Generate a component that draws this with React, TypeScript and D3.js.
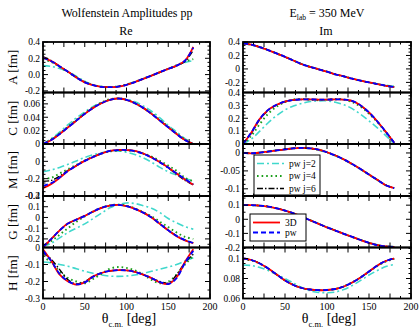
import React from "react";
import * as d3 from "d3";

const theta = [0, 10, 20, 30, 40, 50, 60, 70, 80, 90, 100, 110, 120, 130, 140, 150, 160, 170, 180];

// ---- Re column ----
const reA_3D = [0.21, 0.165, 0.1, 0.035, -0.035, -0.095, -0.13, -0.15, -0.155, -0.148, -0.125, -0.092, -0.052, -0.012, 0.03, 0.07, 0.11, 0.17, 0.34];
const reA_pw = [0.205, 0.163, 0.1, 0.034, -0.036, -0.095, -0.13, -0.15, -0.155, -0.148, -0.125, -0.092, -0.052, -0.012, 0.03, 0.07, 0.11, 0.17, 0.33];
const reA_j2 = [0.11, 0.1, 0.075, 0.035, -0.02, -0.08, -0.125, -0.148, -0.155, -0.145, -0.12, -0.088, -0.05, -0.01, 0.03, 0.07, 0.11, 0.15, 0.17];
const reA_j4 = [0.19, 0.155, 0.095, 0.03, -0.035, -0.09, -0.128, -0.148, -0.153, -0.146, -0.123, -0.09, -0.05, -0.012, 0.03, 0.072, 0.115, 0.16, 0.19];
const reA_j6 = [0.22, 0.17, 0.102, 0.035, -0.034, -0.094, -0.13, -0.15, -0.155, -0.148, -0.125, -0.092, -0.052, -0.013, 0.028, 0.068, 0.108, 0.16, 0.3];

const reC_3D = [0, 0.006, 0.015, 0.025, 0.035, 0.045, 0.054, 0.061, 0.066, 0.068, 0.066, 0.061, 0.054, 0.045, 0.035, 0.025, 0.015, 0.006, 0];
const reC_pw = [0, 0.006, 0.015, 0.025, 0.035, 0.045, 0.054, 0.061, 0.066, 0.068, 0.066, 0.061, 0.054, 0.045, 0.035, 0.025, 0.015, 0.006, 0];
const reC_j2 = [0, 0.008, 0.018, 0.029, 0.039, 0.048, 0.056, 0.062, 0.066, 0.068, 0.067, 0.063, 0.057, 0.049, 0.039, 0.028, 0.018, 0.008, 0];
const reC_j4 = [0, 0.007, 0.016, 0.026, 0.036, 0.046, 0.055, 0.062, 0.067, 0.068, 0.066, 0.061, 0.054, 0.046, 0.036, 0.026, 0.016, 0.007, 0];
const reC_j6 = [0, 0.006, 0.015, 0.025, 0.035, 0.045, 0.054, 0.061, 0.066, 0.068, 0.066, 0.061, 0.054, 0.045, 0.035, 0.025, 0.015, 0.006, 0];

const reM_3D = [-0.31, -0.26, -0.19, -0.11, -0.05, 0.005, 0.05, 0.09, 0.12, 0.13, 0.13, 0.12, 0.09, 0.045, -0.01, -0.07, -0.14, -0.21, -0.27];
const reM_pw = [-0.285, -0.25, -0.185, -0.11, -0.05, 0.005, 0.05, 0.09, 0.12, 0.13, 0.13, 0.118, 0.088, 0.043, -0.012, -0.072, -0.14, -0.205, -0.265];
const reM_j2 = [-0.12, -0.1, -0.07, -0.035, 0.005, 0.045, 0.075, 0.1, 0.115, 0.12, 0.105, 0.08, 0.04, -0.01, -0.07, -0.12, -0.16, -0.2, -0.22];
const reM_j4 = [-0.2, -0.19, -0.14, -0.09, -0.04, 0.01, 0.055, 0.09, 0.115, 0.125, 0.125, 0.115, 0.09, 0.055, 0.005, -0.05, -0.11, -0.19, -0.23];
const reM_j6 = [-0.23, -0.22, -0.17, -0.105, -0.05, 0.005, 0.05, 0.09, 0.12, 0.13, 0.13, 0.12, 0.09, 0.045, -0.01, -0.075, -0.15, -0.22, -0.27];

const reG_3D = [-0.28, -0.2, -0.12, -0.055, -0.02, 0.015, 0.055, 0.09, 0.11, 0.117, 0.105, 0.08, 0.045, 0.0, -0.06, -0.12, -0.175, -0.215, -0.24];
const reG_pw = [-0.275, -0.2, -0.12, -0.056, -0.02, 0.015, 0.055, 0.09, 0.11, 0.117, 0.105, 0.08, 0.045, 0.0, -0.06, -0.12, -0.172, -0.212, -0.238];
const reG_j2 = [-0.27, -0.24, -0.19, -0.14, -0.1, -0.06, -0.01, 0.04, 0.09, 0.12, 0.135, 0.13, 0.11, 0.085, 0.045, -0.01, -0.05, -0.085, -0.11];
const reG_j4 = [-0.27, -0.22, -0.16, -0.1, -0.04, 0.01, 0.055, 0.09, 0.113, 0.12, 0.11, 0.085, 0.05, 0.01, -0.04, -0.09, -0.14, -0.18, -0.2];
const reG_j6 = [-0.27, -0.2, -0.12, -0.058, -0.02, 0.015, 0.055, 0.09, 0.11, 0.117, 0.105, 0.08, 0.045, 0.0, -0.06, -0.12, -0.17, -0.21, -0.235];

const reH_3D = [-0.01, -0.08, -0.16, -0.2, -0.218, -0.205, -0.17, -0.15, -0.138, -0.133, -0.135, -0.143, -0.16, -0.18, -0.205, -0.215, -0.175, -0.085, -0.01];
const reH_pw = [-0.02, -0.08, -0.155, -0.198, -0.217, -0.205, -0.172, -0.15, -0.138, -0.133, -0.135, -0.143, -0.16, -0.18, -0.203, -0.215, -0.18, -0.09, -0.02];
const reH_j2 = [-0.085, -0.09, -0.1, -0.11, -0.125, -0.14, -0.152, -0.162, -0.168, -0.17, -0.168, -0.162, -0.152, -0.14, -0.128, -0.115, -0.1, -0.08, -0.06];
const reH_j4 = [-0.05, -0.09, -0.14, -0.18, -0.2, -0.21, -0.185, -0.155, -0.125, -0.115, -0.12, -0.135, -0.16, -0.19, -0.21, -0.2, -0.16, -0.1, -0.05];
const reH_j6 = [-0.03, -0.07, -0.13, -0.19, -0.215, -0.2, -0.17, -0.15, -0.138, -0.133, -0.135, -0.143, -0.16, -0.18, -0.2, -0.21, -0.16, -0.09, -0.04];

// ---- Im column ----
const imA_3D = [0.38, 0.36, 0.325, 0.28, 0.23, 0.18, 0.125, 0.07, 0.03, -0.005, -0.04, -0.08, -0.11, -0.145, -0.175, -0.2, -0.225, -0.25, -0.27];
const imA_pw = [0.38, 0.36, 0.325, 0.28, 0.23, 0.18, 0.125, 0.07, 0.03, -0.005, -0.04, -0.08, -0.11, -0.145, -0.175, -0.2, -0.225, -0.25, -0.27];
const imA_j2 = [0.37, 0.355, 0.32, 0.278, 0.23, 0.18, 0.127, 0.075, 0.033, -0.005, -0.04, -0.078, -0.11, -0.143, -0.172, -0.197, -0.22, -0.243, -0.26];
const imA_j4 = [0.38, 0.36, 0.325, 0.28, 0.23, 0.18, 0.125, 0.07, 0.03, -0.005, -0.04, -0.08, -0.11, -0.145, -0.175, -0.2, -0.225, -0.25, -0.268];
const imA_j6 = [0.38, 0.36, 0.325, 0.28, 0.23, 0.18, 0.125, 0.07, 0.03, -0.005, -0.04, -0.08, -0.11, -0.145, -0.175, -0.2, -0.225, -0.25, -0.27];

const imC_3D = [0, 0.09, 0.195, 0.265, 0.305, 0.33, 0.342, 0.346, 0.346, 0.345, 0.345, 0.346, 0.345, 0.335, 0.3, 0.245, 0.175, 0.095, 0.01];
const imC_pw = [0, 0.09, 0.195, 0.265, 0.305, 0.33, 0.342, 0.346, 0.346, 0.345, 0.345, 0.346, 0.345, 0.335, 0.3, 0.245, 0.175, 0.095, 0.01];
const imC_j2 = [0, 0.04, 0.1, 0.165, 0.22, 0.265, 0.295, 0.315, 0.33, 0.335, 0.335, 0.325, 0.305, 0.275, 0.23, 0.18, 0.125, 0.065, 0.0];
const imC_j4 = [0, 0.065, 0.155, 0.235, 0.29, 0.325, 0.345, 0.35, 0.345, 0.34, 0.345, 0.35, 0.345, 0.325, 0.29, 0.235, 0.17, 0.09, 0.01];
const imC_j6 = [0, 0.085, 0.19, 0.262, 0.303, 0.33, 0.342, 0.346, 0.346, 0.345, 0.345, 0.346, 0.345, 0.333, 0.298, 0.243, 0.173, 0.094, 0.01];

const imM_3D = [0.0, -0.001, 0.001, 0.004, 0.007, 0.01, 0.013, 0.014, 0.013, 0.009, 0.002, -0.007, -0.018, -0.031, -0.045, -0.06, -0.075, -0.09, -0.098];
const imM_pw = [0.0, -0.001, 0.001, 0.004, 0.007, 0.01, 0.013, 0.014, 0.013, 0.009, 0.002, -0.007, -0.018, -0.031, -0.045, -0.06, -0.075, -0.09, -0.098];
const imM_j2 = [0.001, 0.0, 0.002, 0.005, 0.008, 0.011, 0.013, 0.014, 0.012, 0.008, 0.001, -0.008, -0.019, -0.032, -0.046, -0.061, -0.076, -0.09, -0.097];
const imM_j4 = [0.0, -0.001, 0.001, 0.004, 0.007, 0.01, 0.013, 0.014, 0.013, 0.009, 0.002, -0.007, -0.018, -0.031, -0.045, -0.06, -0.075, -0.09, -0.098];
const imM_j6 = [0.0, -0.001, 0.001, 0.004, 0.007, 0.01, 0.013, 0.014, 0.013, 0.009, 0.002, -0.007, -0.018, -0.031, -0.045, -0.06, -0.075, -0.09, -0.098];

const imG_3D = [0.1, 0.1, 0.097, 0.09, 0.078, 0.062, 0.042, 0.018, -0.007, -0.032, -0.057, -0.08, -0.103, -0.125, -0.147, -0.167, -0.183, -0.193, -0.196];
const imG_pw = [0.1, 0.1, 0.097, 0.09, 0.078, 0.062, 0.042, 0.018, -0.007, -0.032, -0.057, -0.08, -0.103, -0.125, -0.147, -0.167, -0.183, -0.193, -0.196];
const imG_j2 = [0.099, 0.099, 0.096, 0.089, 0.078, 0.062, 0.042, 0.019, -0.006, -0.031, -0.056, -0.08, -0.103, -0.125, -0.146, -0.165, -0.18, -0.19, -0.193];
const imG_j4 = [0.1, 0.1, 0.097, 0.09, 0.078, 0.062, 0.042, 0.018, -0.007, -0.032, -0.057, -0.08, -0.103, -0.125, -0.147, -0.167, -0.183, -0.193, -0.196];
const imG_j6 = [0.1, 0.1, 0.097, 0.09, 0.078, 0.062, 0.042, 0.018, -0.007, -0.032, -0.057, -0.08, -0.103, -0.125, -0.147, -0.167, -0.183, -0.193, -0.196];

const imH_3D = [0.1, 0.0985, 0.095, 0.09, 0.084, 0.078, 0.0735, 0.0705, 0.069, 0.0683, 0.0685, 0.0695, 0.072, 0.076, 0.081, 0.087, 0.093, 0.0975, 0.1];
const imH_pw = [0.1, 0.0985, 0.095, 0.09, 0.084, 0.078, 0.0735, 0.0705, 0.069, 0.0683, 0.0685, 0.0695, 0.072, 0.076, 0.081, 0.087, 0.093, 0.0975, 0.1];
const imH_j2 = [0.0935, 0.093, 0.091, 0.088, 0.084, 0.08, 0.0755, 0.071, 0.0675, 0.066, 0.0658, 0.0665, 0.069, 0.073, 0.078, 0.0835, 0.088, 0.092, 0.094];
const imH_j4 = [0.0995, 0.098, 0.0948, 0.0898, 0.084, 0.0782, 0.0737, 0.0706, 0.069, 0.0683, 0.0685, 0.0696, 0.0722, 0.0762, 0.0812, 0.0868, 0.0925, 0.097, 0.0995];
const imH_j6 = [0.1, 0.0985, 0.095, 0.09, 0.084, 0.078, 0.0735, 0.0705, 0.069, 0.0683, 0.0685, 0.0695, 0.072, 0.076, 0.081, 0.087, 0.093, 0.0975, 0.1];

// ---- axes ----
const xTicks = [0, 50, 100, 150, 200];
const yLabelNames = ["A [fm]", "C [fm]", "M [fm]", "G [fm]", "H [fm]"];
const legendNames1 = ["pw j=2", "pw j=4", "pw j=6"];
const legendNames2 = ["3D", "pw"];

const reA_ticks = [-0.2, 0, 0.2, 0.4];
const reA_labels = ["-0.2", "0.0", "0.2", "0.4"];
const reC_ticks = [0, 0.02, 0.04, 0.06];
const reC_labels = ["0", "0.02", "0.04", "0.06"];
const reM_ticks = [-0.4, -0.2, 0, 0.2];
const reM_labels = ["-0.4", "-0.2", "0", ""];
const reG_ticks = [-0.2, -0.1, 0, 0.1, 0.2];
const reG_labels = ["-0.2", "-0.1", "0", "0.1", "0.2"];
const reH_ticks = [-0.3, -0.2, -0.1, 0];
const reH_labels = ["-0.3", "-0.2", "-0.1", "0"];
const imA_ticks = [-0.2, 0, 0.2, 0.4];
const imA_labels = ["-0.2", "0", "0.2", "0.4"];
const imC_ticks = [0, 0.1, 0.2, 0.3, 0.4];
const imC_labels = ["0", "0.1", "0.2", "0.3", "0.4"];
const imM_ticks = [-0.1, -0.05, 0];
const imM_labels = ["-0.1", "-0.05", "0"];
const imG_ticks = [-0.2, -0.1, 0, 0.1];
const imG_labels = ["-0.2", "-0.1", "0", "0.1"];
const imH_ticks = [0.06, 0.08, 0.1];
const imH_labels = ["0.06", "0.08", "0.1"];

type Panel = {
  col: number;
  row: number;
  domain: [number, number];
  ticks: number[];
  labels: string[];
  minor: number;
  series: number[][];
};

// series order: j2, j4, j6, 3D, pw
const panels: Panel[] = [
  { col: 0, row: 0, domain: [-0.22, 0.4], ticks: reA_ticks, labels: reA_labels, minor: 0.05, series: [reA_j2, reA_j4, reA_j6, reA_3D, reA_pw] },
  { col: 0, row: 1, domain: [0, 0.077], ticks: reC_ticks, labels: reC_labels, minor: 0.005, series: [reC_j2, reC_j4, reC_j6, reC_3D, reC_pw] },
  { col: 0, row: 2, domain: [-0.4, 0.2], ticks: reM_ticks, labels: reM_labels, minor: 0.05, series: [reM_j2, reM_j4, reM_j6, reM_3D, reM_pw] },
  { col: 0, row: 3, domain: [-0.28, 0.2], ticks: reG_ticks, labels: reG_labels, minor: 0.05, series: [reG_j2, reG_j4, reG_j6, reG_3D, reG_pw] },
  { col: 0, row: 4, domain: [-0.3, 0], ticks: reH_ticks, labels: reH_labels, minor: 0.05, series: [reH_j2, reH_j4, reH_j6, reH_3D, reH_pw] },
  { col: 1, row: 0, domain: [-0.35, 0.4], ticks: imA_ticks, labels: imA_labels, minor: 0.05, series: [imA_j2, imA_j4, imA_j6, imA_3D, imA_pw] },
  { col: 1, row: 1, domain: [0, 0.4], ticks: imC_ticks, labels: imC_labels, minor: 0.025, series: [imC_j2, imC_j4, imC_j6, imC_3D, imC_pw] },
  { col: 1, row: 2, domain: [-0.12, 0.025], ticks: imM_ticks, labels: imM_labels, minor: 0.0125, series: [imM_j2, imM_j4, imM_j6, imM_3D, imM_pw] },
  { col: 1, row: 3, domain: [-0.2, 0.165], ticks: imG_ticks, labels: imG_labels, minor: 0.05, series: [imG_j2, imG_j4, imG_j6, imG_3D, imG_pw] },
  { col: 1, row: 4, domain: [0.06, 0.111], ticks: imH_ticks, labels: imH_labels, minor: 0.005, series: [imH_j2, imH_j4, imH_j6, imH_3D, imH_pw] },
];

const styles = [
  { stroke: "#40d8cc", dash: "7,3,2,3", width: 1.6 },
  { stroke: "#1a9e1a", dash: "1.6,3", width: 1.9 },
  { stroke: "#000000", dash: "6,2,1.5,2", width: 1.4 },
  { stroke: "#ff0000", dash: "", width: 1.8 },
  { stroke: "#0000ff", dash: "5,3", width: 1.8 },
];

const FONT = "Liberation Serif, Times New Roman, Times, serif";
const colX: [number, number][] = [[43, 210], [243, 411]];
const rowEdges = [42, 92.5, 144, 196, 247.5, 298.5];

function PanelView({ p, idx }: { p: Panel; idx: number }) {
  const [x0, x1] = colX[p.col];
  const top = rowEdges[p.row];
  const bot = rowEdges[p.row + 1];
  const x = d3.scaleLinear().domain([0, 200]).range([x0, x1]);
  const y = d3.scaleLinear().domain(p.domain).range([bot, top]);
  const line = d3
    .line<number>()
    .x((_, i) => x(theta[i]))
    .y((v) => y(v))
    .curve(d3.curveCatmullRom.alpha(0.5));
  const xMajor = d3.range(0, 200.01, 25);
  const xMinor = d3.range(12.5, 200, 25);
  const eps = 1e-9;
  const yMinor = d3
    .range(Math.ceil((p.domain[0] - eps) / p.minor) * p.minor, p.domain[1] + eps, p.minor)
    .filter((v) => !p.ticks.some((t) => Math.abs(t - v) < p.minor / 10));
  const clipId = `clip${idx}`;
  const tl = 5;
  const ml = 2.5;
  return (
    <g>
      <defs>
        <clipPath id={clipId}>
          <rect x={x0} y={top} width={x1 - x0} height={bot - top} />
        </clipPath>
      </defs>
      <g clipPath={`url(#${clipId})`}>
        {p.series.map((s, i) => (
          <path
            key={i}
            d={line(s) || ""}
            fill="none"
            stroke={styles[i].stroke}
            strokeWidth={styles[i].width}
            strokeDasharray={styles[i].dash || undefined}
          />
        ))}
      </g>
      <g stroke="#000" strokeWidth={1}>
        {xMajor.map((t) => (
          <g key={"xm" + t}>
            <line x1={x(t)} x2={x(t)} y1={top} y2={top + tl} />
            <line x1={x(t)} x2={x(t)} y1={bot} y2={bot - tl} />
          </g>
        ))}
        {xMinor.map((t) => (
          <g key={"xn" + t}>
            <line x1={x(t)} x2={x(t)} y1={top} y2={top + ml} />
            <line x1={x(t)} x2={x(t)} y1={bot} y2={bot - ml} />
          </g>
        ))}
        {p.ticks.map((t) => (
          <g key={"ym" + t}>
            <line x1={x0} x2={x0 + tl} y1={y(t)} y2={y(t)} />
            <line x1={x1} x2={x1 - tl} y1={y(t)} y2={y(t)} />
          </g>
        ))}
        {yMinor.map((t, i) => (
          <g key={"yn" + i}>
            <line x1={x0} x2={x0 + ml} y1={y(t)} y2={y(t)} />
            <line x1={x1} x2={x1 - ml} y1={y(t)} y2={y(t)} />
          </g>
        ))}
      </g>
      <rect x={x0} y={top} width={x1 - x0} height={bot - top} fill="none" stroke="#000" strokeWidth={1.8} />
      <g style={{ fontFamily: FONT }} fontSize={9.5} fill="#000" textAnchor="end">
        {p.ticks.map((t, i) => (
          <text key={"yl" + i} x={x0 - 3} y={y(t)} dy="0.35em">
            {p.labels[i]}
          </text>
        ))}
      </g>
      {p.row === 4 && (
        <g style={{ fontFamily: FONT }} fontSize={10} fill="#000" textAnchor="middle">
          {xTicks.map((t) => (
            <text key={"xl" + t} x={x(t)} y={bot + 11}>
              {t}
            </text>
          ))}
        </g>
      )}
      {p.col === 0 && (
        <text
          transform={`translate(${17},${(top + bot) / 2}) rotate(-90)`}
          textAnchor="middle"
          style={{ fontFamily: FONT }}
          fontSize={13}
        >
          {yLabelNames[p.row]}
        </text>
      )}
    </g>
  );
}

function Legend({ x0, y0, w, h, names, styleIdx, dy }: { x0: number; y0: number; w: number; h: number; names: string[]; styleIdx: number[]; dy: number }) {
  return (
    <g>
      <rect x={x0} y={y0} width={w} height={h} fill="#fff" stroke="#000" strokeWidth={1} />
      {names.map((n, i) => {
        const s = styles[styleIdx[i]];
        const yy = y0 + 8.5 + i * dy;
        return (
          <g key={n}>
            <line x1={x0 + 3} x2={x0 + 30} y1={yy} y2={yy} stroke={s.stroke} strokeWidth={s.width} strokeDasharray={s.dash || undefined} />
            <text x={x0 + 35} y={yy} dy="0.35em" style={{ fontFamily: FONT }} fontSize={9.5}>
              {n}
            </text>
          </g>
        );
      })}
    </g>
  );
}

export default function App() {
  return (
    <svg width={420} height={331} style={{ position: "absolute", left: 0, top: 0, background: "#fff" }}>
      <rect x={0} y={0} width={420} height={331} fill="#fff" />
      {panels.map((p, i) => (
        <PanelView key={i} p={p} idx={i} />
      ))}
      <text x={127} y={17} textAnchor="middle" style={{ fontFamily: FONT }} fontSize={12}>
        Wolfenstein Amplitudes pp
      </text>
      <text x={126} y={34.5} textAnchor="middle" style={{ fontFamily: FONT }} fontSize={12}>
        Re
      </text>
      <text x={327} y={17} textAnchor="middle" style={{ fontFamily: FONT }} fontSize={12}>
        E<tspan fontSize={7.5} dy={3}>lab</tspan>
        <tspan dy={-3}> = 350 MeV</tspan>
      </text>
      <text x={326} y={34.5} textAnchor="middle" style={{ fontFamily: FONT }} fontSize={12}>
        Im
      </text>
      {[129, 329].map((cx) => (
        <text key={cx} x={cx} y={323} textAnchor="middle" style={{ fontFamily: FONT }} fontSize={14}>
          θ<tspan fontSize={8.5} dy={4}>c.m.</tspan>
          <tspan dy={-4}> [deg]</tspan>
        </text>
      ))}
      <Legend x0={254} y0={155} w={66} h={40} names={legendNames1} styleIdx={[0, 1, 2]} dy={12.5} />
      <Legend x0={250} y0={214} w={56} h={27} names={legendNames2} styleIdx={[3, 4]} dy={10} />
    </svg>
  );
}
